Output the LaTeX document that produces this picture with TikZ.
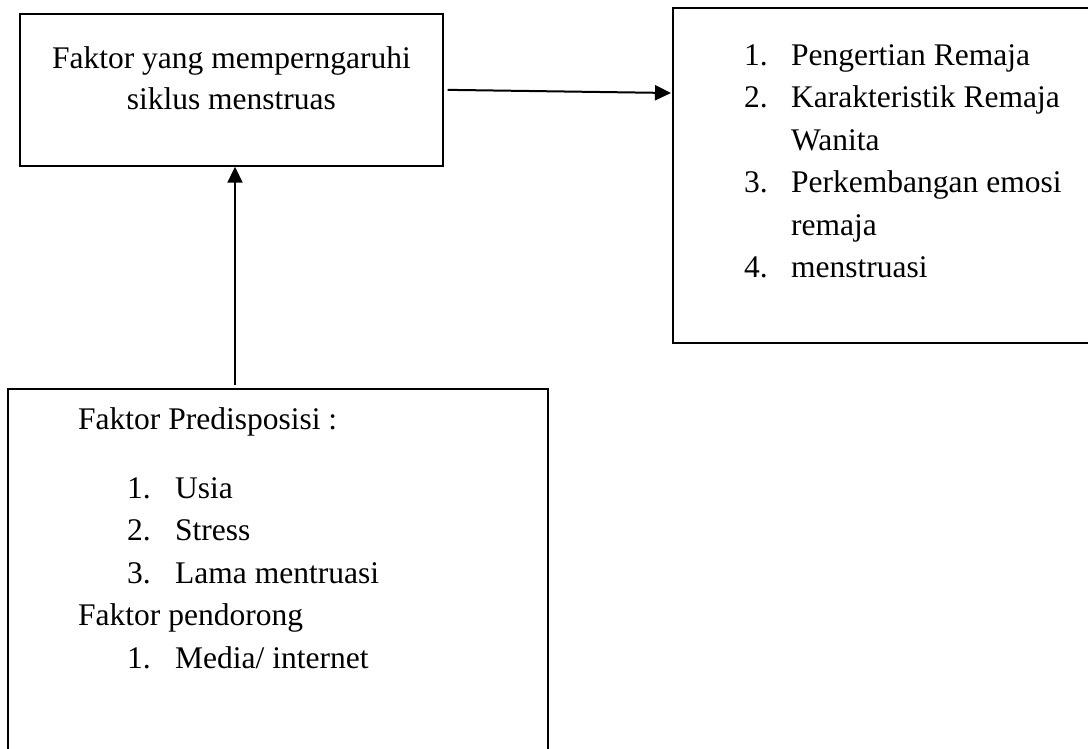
\documentclass[tikz,border=0pt]{standalone}
\usepackage{fontspec}
\setmainfont{Liberation Serif}
\usetikzlibrary{arrows.meta}
\begin{document}
\begin{tikzpicture}[x=1pt,y=1pt,
  box/.style={draw=black,line width=2pt,rectangle,inner sep=0pt},
  txt/.style={inner sep=0pt,anchor=base west,font=\fontsize{31.5}{42.5}\selectfont},
  ctxt/.style={txt,anchor=base},
  arr/.style={line width=2pt,-{Triangle[length=16pt,width=15pt]}}]
\useasboundingbox (0,0) rectangle (1088,-748);
\clip (0,0) rectangle (1088,-748);
% boxes
\node[box,minimum width=423.8pt,minimum height=151.7pt] (A) at (231.4,-89.85) {};
\node[box,minimum width=432pt,minimum height=334.7pt] (B) at (889,-175.35) {};
\node[box,minimum width=539.7pt,minimum height=381pt] (C) at (278.15,-579.5) {};
% box A text
\node[ctxt] (a1) at (231.4,-68) {Faktor yang memperngaruhi};
\node[ctxt] (a2) at (231.4,-109) {siklus menstruas};
% box B text
\node[txt] (b1n) at (744,-65) {1.};
\node[txt] (b1) at (791,-65) {Pengertian Remaja};
\node[txt] (b2n) at (744,-107.5) {2.};
\node[txt] (b2) at (791,-107.5) {Karakteristik Remaja};
\node[txt] (b2b) at (791,-150) {Wanita};
\node[txt] (b3n) at (744,-192.5) {3.};
\node[txt] (b3) at (791,-192.5) {Perkembangan emosi};
\node[txt] (b3b) at (791,-235) {remaja};
\node[txt] (b4n) at (744,-277.5) {4.};
\node[txt] (b4) at (791,-277.5) {menstruasi};
% box C text
\node[txt] (c0) at (78,-429) {Faktor Predisposisi :};
\node[txt] (c1n) at (127,-498) {1.};
\node[txt] (c1) at (175,-498) {Usia};
\node[txt] (c2n) at (127,-540.5) {2.};
\node[txt] (c2) at (175,-540.5) {Stress};
\node[txt] (c3n) at (127,-583) {3.};
\node[txt] (c3) at (175,-583) {Lama mentruasi};
\node[txt] (c4) at (78,-625.5) {Faktor pendorong};
\node[txt] (c5n) at (127,-668) {1.};
\node[txt] (c5) at (175,-668) {Media/ internet};
% connectors
\draw[arr] ([xshift=3.4pt]A.east) -- ([xshift=-1pt,yshift=-86pt]B.north west);
\coordinate (cstart) at (235,-385);
\draw[arr] (cstart) -- (cstart |- A.south);
\end{tikzpicture}
\end{document}
